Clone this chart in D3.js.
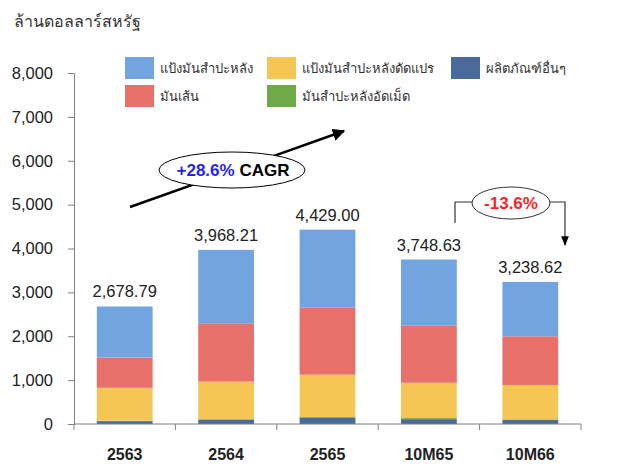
<!DOCTYPE html>
<html>
<head>
<meta charset="utf-8">
<script src="https://cdn.jsdelivr.net/npm/d3@7"></script>
<style>
  body { margin: 0; background: #fff; }
  svg { font-family: "Liberation Sans", Arial, sans-serif; }
</style>
</head>
<body>
<div id="chart"></div>
<script>
const categories = ['2563', '2564', '2565', '10M65', '10M66'];
const seriesNames = ['ผลิตภัณฑ์อื่นๆ', 'มันสำปะหลังอัดเม็ด', 'แป้งมันสำปะหลังดัดแปร', 'มันเส้น', 'แป้งมันสำปะหลัง'];
const otherProducts = [65, 100, 150, 110, 90];
const pellets = [10, 10, 10, 25, 15];
const modifiedStarch = [750, 855, 965, 805, 785];
const chips = [690, 1330, 1525, 1300, 1108];
const starch = [1163.79, 1673.21, 1779.00, 1508.63, 1240.62];
const totals = [2678.79, 3968.21, 4429.00, 3748.63, 3238.62];
const yTicks = [0, 1000, 2000, 3000, 4000, 5000, 6000, 7000, 8000];

const colors = ['#4a6a9b', '#70a947', '#f6c654', '#e8706b', '#72a4e0'];

const width = 622, height = 464;
const margin = { left: 74, right: 41, top: 73, bottom: 40 };

const svg = d3.select('#chart').append('svg')
    .attr('width', width)
    .attr('height', height);

const rows = categories.map((c, i) => ({
    cat: c,
    s0: otherProducts[i], s1: pellets[i], s2: modifiedStarch[i], s3: chips[i], s4: starch[i]
}));

const stack = d3.stack().keys(['s0', 's1', 's2', 's3', 's4']);
const layers = stack(rows);

const x = d3.scaleBand()
    .domain(categories)
    .range([margin.left, width - margin.right])
    .paddingInner(0.45)
    .paddingOuter(0.225);

const y = d3.scaleLinear()
    .domain([0, 8000])
    .range([height - margin.bottom, margin.top]);

// title
svg.append('text')
    .attr('x', 14).attr('y', 27)
    .style('font-size', '16px')
    .attr('fill', '#333')
    .text('ล้านดอลลาร์สหรัฐ');

// bars
svg.selectAll('g.layer')
    .data(layers)
    .enter().append('g')
    .attr('class', 'layer')
    .attr('fill', (d, i) => colors[i])
    .selectAll('rect')
    .data(d => d)
    .enter().append('rect')
    .attr('x', d => x(d.data.cat))
    .attr('width', x.bandwidth())
    .attr('y', d => y(d[1]))
    .attr('height', d => y(d[0]) - y(d[1]));

// y axis
const yAxis = svg.append('g')
    .attr('transform', `translate(${margin.left},0)`)
    .call(d3.axisLeft(y).tickValues(yTicks).tickSize(6).tickSizeOuter(0).tickPadding(15).tickFormat(d3.format(',')));
yAxis.selectAll('line, path').attr('stroke', '#808080');
yAxis.selectAll('text').style('font-size', '16.5px').attr('fill', '#222');

// x axis
const step = x.step();
const xBounds = categories.map(c => x(c) - (step - x.bandwidth()) / 2).concat([width - margin.right]);
const xAxis = svg.append('g');
xAxis.append('line')
    .attr('x1', margin.left).attr('x2', width - margin.right)
    .attr('y1', y(0)).attr('y2', y(0))
    .attr('stroke', '#808080');
xAxis.selectAll('line.tick')
    .data(xBounds)
    .enter().append('line')
    .attr('class', 'tick')
    .attr('x1', d => d).attr('x2', d => d)
    .attr('y1', y(0)).attr('y2', y(0) + 6)
    .attr('stroke', '#808080');
xAxis.selectAll('text')
    .data(categories)
    .enter().append('text')
    .attr('x', d => x(d) + x.bandwidth() / 2)
    .attr('y', y(0) + 36)
    .attr('text-anchor', 'middle')
    .style('font-size', '16px')
    .style('font-weight', 'bold')
    .attr('fill', '#222')
    .text(d => d);

// total labels
svg.selectAll('text.total')
    .data(totals)
    .enter().append('text')
    .attr('class', 'total')
    .attr('x', (d, i) => x(categories[i]) + x.bandwidth() / 2)
    .attr('y', d => y(d) - 9)
    .attr('text-anchor', 'middle')
    .style('font-size', '16.5px')
    .attr('fill', '#222')
    .text(d => d3.format(',.2f')(d));

// legend
const legendItems = [
    { name: 'แป้งมันสำปะหลัง', color: colors[4], x: 125, y: 57 },
    { name: 'แป้งมันสำปะหลังดัดแปร', color: colors[2], x: 267, y: 57 },
    { name: 'ผลิตภัณฑ์อื่นๆ', color: colors[0], x: 451, y: 57 },
    { name: 'มันเส้น', color: colors[3], x: 125, y: 85 },
    { name: 'มันสำปะหลังอัดเม็ด', color: colors[1], x: 267, y: 85 }
];
const lg = svg.selectAll('g.legend')
    .data(legendItems)
    .enter().append('g')
    .attr('class', 'legend')
    .attr('transform', d => `translate(${d.x},${d.y})`);
lg.append('rect')
    .attr('width', 29).attr('height', 22)
    .attr('fill', d => d.color);
lg.append('text')
    .attr('x', 35).attr('y', 16)
    .style('font-size', '13px')
    .attr('fill', '#333')
    .text(d => d.name);

// arrowhead
const defs = svg.append('defs');
defs.append('marker')
    .attr('id', 'arrow')
    .attr('viewBox', '0 0 10 10')
    .attr('refX', 9).attr('refY', 5)
    .attr('markerWidth', 5).attr('markerHeight', 5)
    .attr('orient', 'auto')
    .append('path').attr('d', 'M0,0 L10,5 L0,10 Z').attr('fill', '#000');
defs.append('marker')
    .attr('id', 'arrowSmall')
    .attr('viewBox', '0 0 10 10')
    .attr('refX', 9).attr('refY', 5)
    .attr('markerWidth', 8).attr('markerHeight', 8)
    .attr('orient', 'auto')
    .append('path').attr('d', 'M0,1 L10,5 L0,9 Z').attr('fill', '#000');

// CAGR arrow
svg.append('line')
    .attr('x1', 130).attr('y1', 207)
    .attr('x2', 344).attr('y2', 131)
    .attr('stroke', '#000').attr('stroke-width', 2.5)
    .attr('marker-end', 'url(#arrow)');
svg.append('ellipse')
    .attr('cx', 232).attr('cy', 170).attr('rx', 73).attr('ry', 18)
    .attr('fill', '#fff').attr('stroke', '#000').attr('stroke-width', 1);
const cagr = svg.append('text')
    .attr('x', 233).attr('y', 176)
    .attr('text-anchor', 'middle')
    .style('font-size', '17px')
    .style('font-weight', 'bold');
cagr.append('tspan').attr('fill', '#1f1fff').text('+28.6%');
cagr.append('tspan').attr('fill', '#000').text(' CAGR');

// -13.6% bracket
svg.append('path')
    .attr('d', 'M455,223 L455,202 L472,202')
    .attr('fill', 'none').attr('stroke', '#333').attr('stroke-width', 1.2);
svg.append('path')
    .attr('d', 'M550,202 L565,202 L565,245')
    .attr('fill', 'none').attr('stroke', '#333').attr('stroke-width', 1.2)
    .attr('marker-end', 'url(#arrowSmall)');
svg.append('ellipse')
    .attr('cx', 511).attr('cy', 203).attr('rx', 39).attr('ry', 16)
    .attr('fill', '#fff').attr('stroke', '#333').attr('stroke-width', 1);
svg.append('text')
    .attr('x', 511).attr('y', 209)
    .attr('text-anchor', 'middle')
    .style('font-size', '17px')
    .style('font-weight', 'bold')
    .attr('fill', '#ff1f1f')
    .text('-13.6%');
</script>
</body>
</html>
